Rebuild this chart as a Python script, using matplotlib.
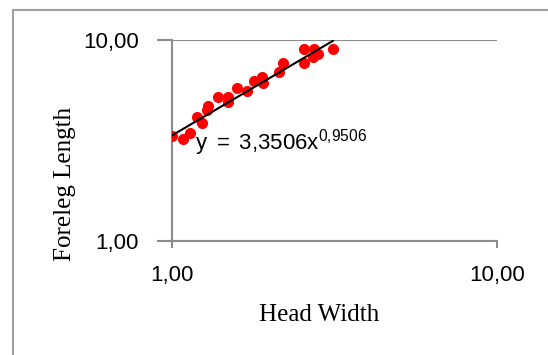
import numpy as np
import matplotlib.pyplot as plt
from matplotlib.patches import Rectangle
from matplotlib.ticker import FixedLocator, NullLocator

# data (log-log scatter)
head_width = [1.00, 1.08, 1.14, 1.19, 1.24, 1.28, 1.29, 1.39, 1.49, 1.49, 1.59, 1.70,
              1.79, 1.89, 1.90, 2.14, 2.19, 2.54, 2.54, 2.73, 2.72, 2.82, 3.13]
foreleg_length = [3.34, 3.22, 3.43, 4.12, 3.85, 4.48, 4.69, 5.19, 5.19, 4.93, 5.75, 5.57,
                  6.27, 6.52, 6.13, 6.91, 7.66, 7.66, 9.02, 9.02, 8.26, 8.49, 9.02]
coef_a = 3.3506
coef_b = 0.9506
tick_vals = [1, 10]
tick_labels = ["1,00", "10,00"]

plt.rcParams['mathtext.fontset'] = 'custom'
plt.rcParams['mathtext.rm'] = 'Liberation Sans'
plt.rcParams['mathtext.it'] = 'Liberation Sans'

fig = plt.figure(figsize=(5.48, 3.55), dpi=100)
ax = fig.add_axes([172/548, 1 - 241/355, 325/548, 201/355])

grey = "#8c8c8c"

ax.scatter(head_width, foreleg_length, s=64, color="#ff0000", zorder=3, linewidths=0)

# power trendline
xs = np.linspace(min(head_width), max(head_width), 50)
ax.plot(xs, coef_a * xs ** coef_b, color="black", lw=1.5, zorder=4)

ax.set_xscale("log")
ax.set_yscale("log")
ax.set_xlim(1, 10)
ax.set_ylim(1, 10)
ax.xaxis.set_major_locator(FixedLocator(tick_vals))
ax.yaxis.set_major_locator(FixedLocator(tick_vals))
ax.xaxis.set_minor_locator(NullLocator())
ax.yaxis.set_minor_locator(NullLocator())
ax.set_xticklabels(tick_labels, family="Liberation Sans", fontsize=16)
ax.set_yticklabels(tick_labels, family="Liberation Sans", fontsize=16)
ax.tick_params(axis="x", length=5, width=1.5, color=grey, pad=12)
ax.tick_params(axis="y", length=11, width=1.5, color=grey, pad=13)

ax.yaxis.grid(True, color=grey, lw=1.5)
for side in ["top", "right"]:
    ax.spines[side].set_visible(False)
for side in ["left", "bottom"]:
    ax.spines[side].set_color(grey)
    ax.spines[side].set_linewidth(1.5)

ax.text(0.452, -0.37, "Head Width", transform=ax.transAxes, ha="center", va="center",
        family="Liberation Serif", fontsize=18)
ax.text(-0.329, 0.284, "Foreleg Length", transform=ax.transAxes, ha="center", va="center",
        rotation=90, family="Liberation Serif", fontsize=18)

ax.text(0.071, 0.455, r"$\mathrm{y\ =\ 3{,}3506x^{0{,}9506}}$", transform=ax.transAxes,
        ha="left", va="baseline", fontsize=16, zorder=5)

# outer chart frame (cropped on the right and bottom)
fig.patches.append(Rectangle((13/548, -0.2), 1.2, 1.2 - 10/355, transform=fig.transFigure,
                             fill=False, edgecolor="#a0a0a0", lw=1.5))

fig.savefig("out.png", dpi=100)
